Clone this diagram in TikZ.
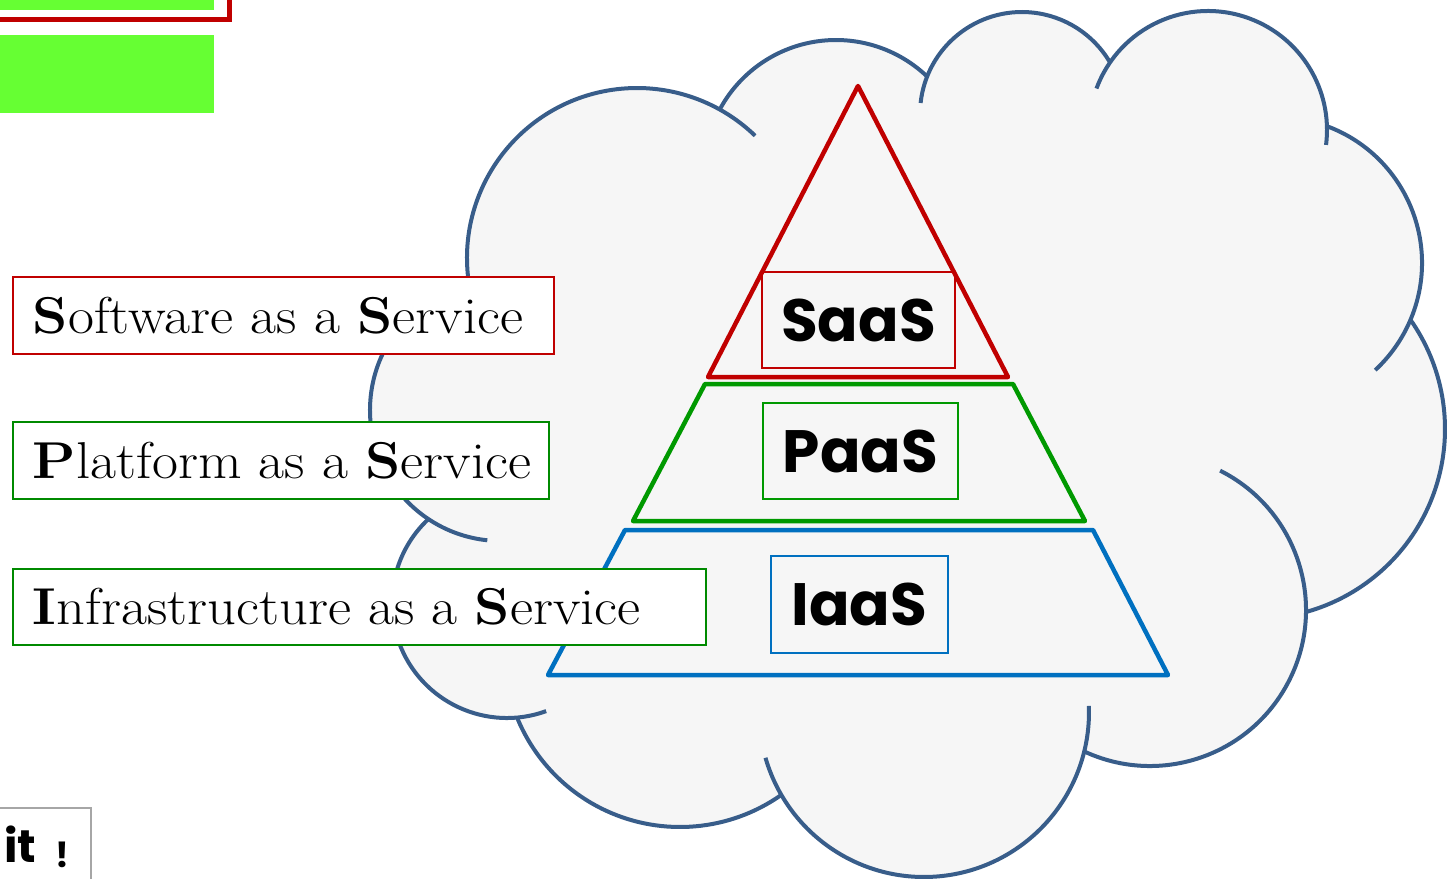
\documentclass[tikz,border=0pt]{standalone}
\usepackage{fontspec}
\usepackage{tikz}
\usetikzlibrary{calc}
\newfontfamily\geofont{Poppins}
\newfontfamily\termfont{Latin Modern Roman}[FakeStretch=1.09]
\definecolor{saasred}{HTML}{C00000}
\definecolor{paasgreen}{HTML}{009900}
\definecolor{termgreen}{HTML}{008A00}
\definecolor{iaasblue}{HTML}{0070C0}
\definecolor{cloudline}{HTML}{385D8A}
\definecolor{cloudfill}{HTML}{F6F6F6}
\definecolor{lime}{HTML}{66FF33}

\begin{document}
\begin{tikzpicture}[x=0.02cm, y=-0.02cm,
    layer/.style = {line width=0.09cm, line join=round},
    tier/.style = {draw, line width=0.03cm, minimum height=1.92cm, inner sep=0pt,
                   font=\geofont\bfseries\fontsize{34}{40}\selectfont},
    term/.style = {draw, fill=white, line width=0.04cm, anchor=west, inner xsep=0.4cm,
                   inner ysep=0pt, align=left, minimum height=1.54cm,
                   font=\termfont\fontsize{29.5}{34}\selectfont}]
    \useasboundingbox (0,0) rectangle (1448,879);
    \clip (0,0) rectangle (1448,879);

    \fill[lime] (-10,-10) rectangle (214,10);
    \draw[saasred, line width=0.1cm] (-50,-50) rectangle (229,19.5);
    \fill[lime] (-10,35) rectangle (214,113);

    \fill[cloudfill] (469,283)
        \foreach \cx/\cy/\r/\a/\b in {637/258/170/171.5/299.3, 836/172/132/208.1/313.5,
            1022/114/102/201.8/329.4, 1208/130/119/214.8/358.1, 1276/263/146/-69.6/23,
            1255/429/190/-35.1/74.4, 1150/610/156/0.7/115.1, 924/712/165/13.7/149.9,
            680/651/176/54.96/157.6, 507/603/115/85/226.8, 501/410/131/123.8/255.9}
        { -- ($(\cx,\cy)+(\a:\r)$) arc[start angle=\a, end angle=\b, radius=\r] }
        -- cycle;
    \foreach \cx/\cy/\r/\a/\b in {637/258/170/171.5/314, 836/172/132/208.1/313.5,
            1022/114/102/186.2/329.4, 1208/130/119/200.4/367.2, 1276/263/146/-69.6/47.2,
            1255/429/190/-35.1/74.4, 1150/610/156/-63.3/115.1, 924/712/165/-2.1/163.9,
            680/651/176/54.96/157.6, 507/603/115/70.1/226.8, 501/410/131/96/255.9}
        \draw[cloudline, line width=0.08cm] ($(\cx,\cy)+(\a:\r)$) arc[start angle=\a, end angle=\b, radius=\r];

    \coordinate (s-top) at (858,86);
    \coordinate (s-bl) at (708,377);
    \coordinate (s-br) at (1008,377);
    \coordinate (p-tl) at (705,384);
    \coordinate (p-tr) at (1013,384);
    \coordinate (p-br) at (1085,521);
    \coordinate (p-bl) at (633,521);
    \coordinate (i-tl) at (625,530);
    \coordinate (i-tr) at (1093,530);
    \coordinate (i-br) at (1168,675);
    \coordinate (i-bl) at (548,675);

    \draw[layer, saasred] (s-top) -- (s-br) -- (s-bl) -- cycle;
    \draw[layer, paasgreen] (p-tl) -- (p-tr) -- (p-br) -- (p-bl) -- cycle;
    \draw[layer, iaasblue] (i-tl) -- (i-tr) -- (i-br) -- (i-bl) -- cycle;

    \node[tier, draw=saasred, minimum width=3.86cm] (saas) at (858.5,320) {SaaS};
    \node[tier, draw=paasgreen, minimum width=3.9cm] (paas) at (860.5,451) {PaaS};
    \node[tier, draw=iaasblue, minimum width=3.54cm, minimum height=1.94cm] (iaas) at (859.5,604.5) {IaaS};

    \node[term, draw=saasred, text width=10.02cm] (saasterm) at (12,315.5) {\mbox{\textbf{S}oftware as a \textbf{S}ervice}};
    \node[term, draw=termgreen, text width=9.92cm] (paasterm) at (12,460.5) {\mbox{\textbf{P}latform as a \textbf{S}ervice}};
    \node[term, draw=termgreen, text width=13.06cm, minimum height=1.52cm] (iaasterm) at (12,607) {\mbox{\textbf{I}nfrastructure as a \textbf{S}ervice}};

    \draw[gray!70, line width=0.04cm] (-50,808) rectangle (91,930);
    \node[anchor=base west, inner sep=0pt, font=\geofont\bfseries\fontsize{26}{30}\selectfont] (slogan) at (4,862)
        {it\hspace{0.38cm}\raisebox{-0.1cm}{\fontsize{20}{24}\selectfont !}};
\end{tikzpicture}
\end{document}
